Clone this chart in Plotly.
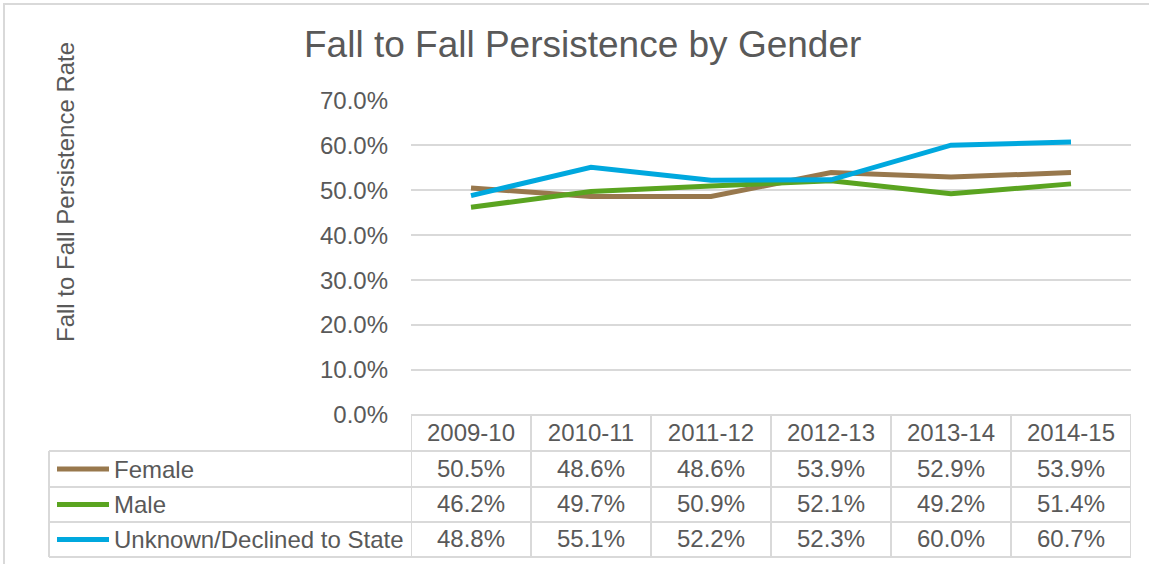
import plotly.graph_objects as go

# Fall-to-fall persistence rates (%) by gender, per academic year
years = ["2009-10", "2010-11", "2011-12", "2012-13", "2013-14", "2014-15"]
series_names = ["Female", "Male", "Unknown/Declined to State"]
female = [50.5, 48.6, 48.6, 53.9, 52.9, 53.9]
male = [46.2, 49.7, 50.9, 52.1, 49.2, 51.4]
unknown = [48.8, 55.1, 52.2, 52.3, 60.0, 60.7]
series_values = [female, male, unknown]
series_colors = ["#98784D", "#5AA420", "#00A8DE"]
y_ticks = [0, 10, 20, 30, 40, 50, 60, 70]

W, H = 1149, 564
TEXT = "#595959"
GRID = "#D9D9D9"
FONT = "Liberation Sans, Arial, sans-serif"


def px(x):
    return x / W


def py(y):
    return 1 - y / H


# plot area and data-table geometry (pixels)
plot_left, plot_right = 411, 1131
plot_top, plot_bottom = 100, 415
legend_left = 49
row_edges = [415, 451, 487, 522, 557]

fig = go.Figure()

for name, vals, col in zip(series_names, series_values, series_colors):
    fig.add_trace(go.Scatter(
        x=years, y=vals, name=name, mode="lines",
        line=dict(color=col, width=5),
        hoverinfo="x+y+name",
    ))

shapes = []
annotations = []

# outer chart frame (only its top and left edges fall inside the page)
shapes.append(dict(type="rect", xref="paper", yref="paper",
                   x0=px(4), x1=px(W + 10), y0=py(4), y1=py(H + 10),
                   line=dict(color=GRID, width=2), layer="below"))

# data table: horizontal rules
for i, y in enumerate(row_edges):
    x0 = px(plot_left) if i == 0 else px(legend_left)
    shapes.append(dict(type="line", xref="paper", yref="paper",
                       x0=x0, x1=px(plot_right), y0=py(y), y1=py(y),
                       line=dict(color=GRID, width=2)))
# data table: vertical rules at category boundaries
for k in range(len(years) + 1):
    shapes.append(dict(type="line", xref="x", yref="paper",
                       x0=k - 0.5, x1=k - 0.5,
                       y0=py(row_edges[0]), y1=py(row_edges[-1]),
                       line=dict(color=GRID, width=2)))
# legend column left edge
shapes.append(dict(type="line", xref="paper", yref="paper",
                   x0=px(legend_left), x1=px(legend_left),
                   y0=py(row_edges[1]), y1=py(row_edges[-1]),
                   line=dict(color=GRID, width=2)))

# table rows: legend key + values
for r, (name, vals, col) in enumerate(zip(series_names, series_values, series_colors)):
    yc = (row_edges[r + 1] + row_edges[r + 2]) / 2
    shapes.append(dict(type="line", xref="paper", yref="paper",
                       x0=px(57), x1=px(109), y0=py(yc), y1=py(yc),
                       line=dict(color=col, width=5)))
    annotations.append(dict(xref="paper", yref="paper", x=px(112), y=py(yc),
                            text=name, showarrow=False, xanchor="left",
                            yanchor="middle",
                            font=dict(size=24, color=TEXT, family=FONT)))
    for yr, v in zip(years, vals):
        annotations.append(dict(xref="x", yref="paper", x=yr, y=py(yc - 1),
                                text=f"{v:.1f}%", showarrow=False,
                                xanchor="center", yanchor="middle",
                                font=dict(size=24, color=TEXT, family=FONT)))

# chart title
annotations.append(dict(xref="paper", yref="paper", x=px(582), y=py(45),
                        text="Fall to Fall Persistence by Gender",
                        showarrow=False, xanchor="center", yanchor="middle",
                        font=dict(size=37, color=TEXT, family=FONT)))
# value axis title
annotations.append(dict(xref="paper", yref="paper", x=px(65), y=py(192),
                        text="Fall to Fall Persistence Rate", textangle=-90,
                        showarrow=False, xanchor="center", yanchor="middle",
                        font=dict(size=24, color=TEXT, family=FONT)))

fig.update_layout(
    width=W, height=H,
    margin=dict(l=0, r=0, t=0, b=0, autoexpand=False),
    paper_bgcolor="white", plot_bgcolor="white",
    showlegend=False,
    font=dict(family=FONT, color=TEXT, size=24),
    shapes=shapes,
    annotations=annotations,
    xaxis=dict(
        domain=[px(plot_left), px(plot_right)],
        type="category", categoryorder="array", categoryarray=years,
        range=[-0.5, len(years) - 0.5],
        showgrid=False, zeroline=False, showline=False,
        ticks="", ticklabelstandoff=1, automargin=False,
        tickfont=dict(size=24, color=TEXT, family=FONT),
    ),
    yaxis=dict(
        domain=[py(plot_bottom), py(plot_top)],
        range=[0, 70.05],
        tickvals=y_ticks, ticktext=[f"{t:.1f}%" for t in y_ticks],
        showgrid=True, gridcolor=GRID, gridwidth=2,
        zeroline=False, showline=False, ticks="",
        ticklabelstandoff=22, automargin=False,
        tickfont=dict(size=24, color=TEXT, family=FONT),
    ),
)

fig.write_html("out.html")
